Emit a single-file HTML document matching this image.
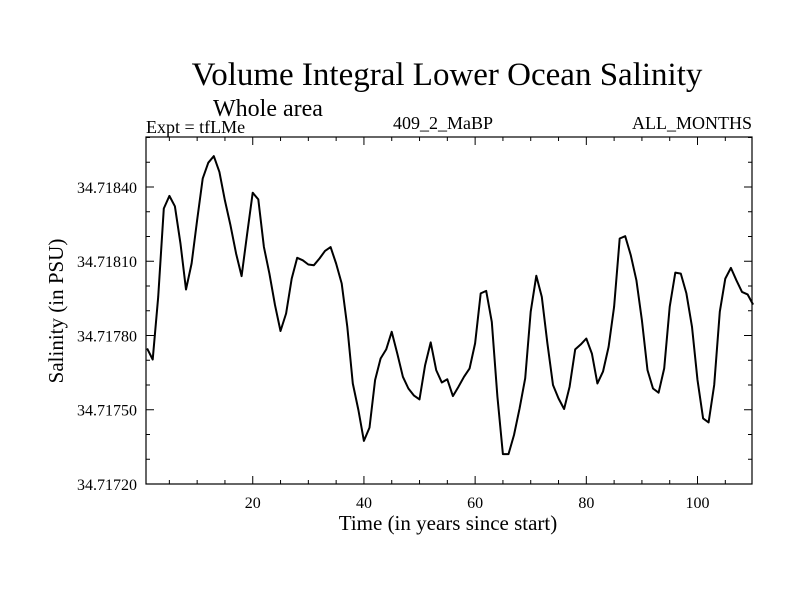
<!DOCTYPE html>
<html><head><meta charset="utf-8"><style>
body{margin:0;background:#fff}
svg text{font-family:"Liberation Serif",serif;fill:#000}
</style></head><body>
<svg id="chart" width="800" height="600" xmlns="http://www.w3.org/2000/svg">
<rect width="800" height="600" fill="#fff"/>
<text x="447" y="85" font-size="33" text-anchor="middle">Volume Integral Lower Ocean Salinity</text>
<text x="268" y="116" font-size="24" text-anchor="middle">Whole area</text>
<text x="146" y="133" font-size="18">Expt = tfLMe</text>
<text x="443" y="129" font-size="18" text-anchor="middle">409_2_MaBP</text>
<text x="752" y="129" font-size="18" text-anchor="end">ALL_MONTHS</text>
<text x="448" y="530" font-size="21" text-anchor="middle">Time (in years since start)</text>
<text transform="translate(63,311) rotate(-90)" font-size="21" text-anchor="middle">Salinity (in PSU)</text>
<g id="axes"></g>
<g id="plot"></g>
</svg>
<script>
const years=[];for(let i=1;i<=110;i++)years.push(i);
const salinity=[34.717748,34.717703,34.717956,34.718313,34.718364,34.718322,34.718171,34.717986,34.718091,34.718265,
34.718434,34.718498,34.718525,34.718461,34.718346,34.718245,34.718131,34.718040,34.718212,34.718377,
34.718350,34.718158,34.718050,34.717923,34.717818,34.717889,34.718030,34.718114,34.718104,34.718087,
34.718084,34.718111,34.718142,34.718157,34.718091,34.718010,34.717835,34.717606,34.717499,34.717374,
34.717428,34.717620,34.717707,34.717744,34.717815,34.717727,34.717633,34.717586,34.717557,34.717542,
34.717680,34.717772,34.717660,34.717610,34.717623,34.717555,34.717593,34.717633,34.717667,34.717768,
34.717970,34.717980,34.717855,34.717553,34.717321,34.717321,34.717398,34.717506,34.717627,34.717896,
34.718041,34.717956,34.717768,34.717600,34.717546,34.717503,34.717593,34.717744,34.717764,34.717788,
34.717727,34.717606,34.717654,34.717754,34.717916,34.718192,34.718201,34.718124,34.718023,34.717862,
34.717660,34.717586,34.717569,34.717667,34.717916,34.718054,34.718050,34.717970,34.717835,34.717620,
34.717465,34.717449,34.717600,34.717896,34.718030,34.718073,34.718023,34.717976,34.717966,34.717925];
const xTicks=[20,40,60,80,100];
const yTicks=[34.71720,34.71750,34.71780,34.71810,34.71840];
const yTickLabels=["34.71720","34.71750","34.71780","34.71810","34.71840"];
const X0=146,X1=752,Y0=137,Y1=484;
const xMin=0.8,xMax=109.8,yMin=34.71720,yMax=34.718602;
const sx=v=>X0+(v-xMin)/(xMax-xMin)*(X1-X0);
const sy=v=>Y1-(v-yMin)/(yMax-yMin)*(Y1-Y0);
const NS="http://www.w3.org/2000/svg";
const axes=document.getElementById('axes'),plot=document.getElementById('plot');
function mk(t,a,p){const e=document.createElementNS(NS,t);for(const k in a)e.setAttribute(k,a[k]);p.appendChild(e);return e;}
const frame=mk('rect',{x:X0,y:Y0,width:X1-X0,height:Y1-Y0,fill:'none',stroke:'#000','stroke-width':1.2},axes);


for(let v=5;v<=110;v+=5){const x=sx(v);if(x<X0||x>X1)continue;const L=v%20===0?8:4;
mk('line',{x1:x,y1:Y1,x2:x,y2:Y1-L,stroke:'#000'},axes);mk('line',{x1:x,y1:Y0,x2:x,y2:Y0+L,stroke:'#000'},axes);}
for(let k=0;k<=14;k++){const v=34.71720+k*0.0001;const y=sy(v);if(y<Y0)continue;const L=k%3===0?8:4;
mk('line',{x1:X0,y1:y,x2:X0+L,y2:y,stroke:'#000'},axes);mk('line',{x1:X1,y1:y,x2:X1-L,y2:y,stroke:'#000'},axes);}
xTicks.forEach(v=>{const t=mk('text',{x:sx(v),y:508,'font-size':16,'text-anchor':'middle'},axes);t.textContent=v;

});
yTicks.forEach((v,i)=>{const t=mk('text',{x:137,y:sy(v)+6,'font-size':16,'text-anchor':'end'},axes);t.textContent=yTickLabels[i];

});
const pts=years.map((yr,i)=>sx(yr).toFixed(1)+','+sy(salinity[i]).toFixed(1)).join(' ');
const line=mk('polyline',{points:pts,fill:'none',stroke:'#000','stroke-width':2,'stroke-linejoin':'round'},plot);


</script>
</body></html>
